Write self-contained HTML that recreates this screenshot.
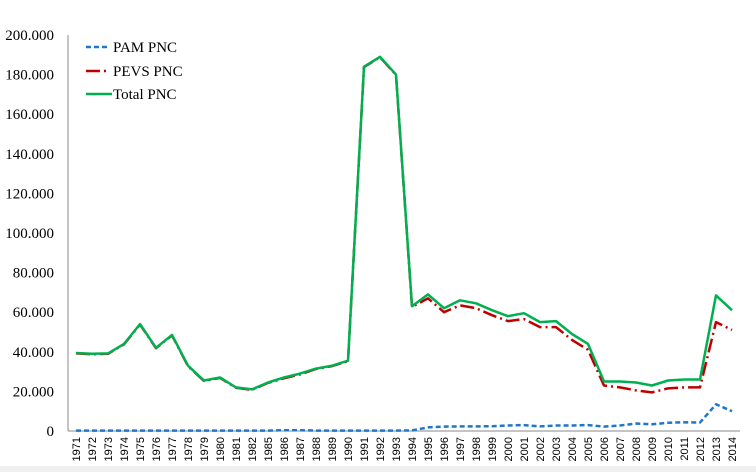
<!DOCTYPE html>
<html><head><meta charset="utf-8">
<style>
html,body{margin:0;padding:0;background:#fff;}
svg{display:block;font-family:"Liberation Serif",serif;}
</style></head>
<body>
<svg id="chart" width="756" height="472" viewBox="0 0 756 472" xmlns="http://www.w3.org/2000/svg">
<rect x="0" y="0" width="756" height="472" fill="#fff"/>
<rect x="0" y="466" width="756" height="6" fill="#f0f0f0"/>
<g id="grid"></g>
<g id="series"></g>
<g id="legend">
  <g>
    <line x1="86" y1="47" x2="110" y2="47" stroke="#1f77c9" stroke-width="2.5" stroke-dasharray="5,3"/>
    <text x="113" y="52" font-size="15" fill="#000">PAM PNC</text>
  </g>
  <g>
    <line x1="86" y1="71" x2="110" y2="71" stroke="#c00000" stroke-width="2.5" stroke-dasharray="14,4,2,4"/>
    <text x="113" y="76" font-size="15" fill="#000">PEVS PNC</text>
  </g>
  <g>
    <line x1="86" y1="94" x2="112" y2="94" stroke="#00b050" stroke-width="2.5"/>
    <text x="113" y="99" font-size="15" fill="#000">Total PNC</text>
  </g>
</g>
</svg>
<script>
const categories = ["1971","1972","1973","1974","1975","1976","1977","1978","1979","1980","1981","1982","1985","1986","1987","1988","1989","1990","1991","1992","1993","1994","1995","1996","1997","1998","1999","2000","2001","2002","2003","2004","2005","2006","2007","2008","2009","2010","2011","2012","2013","2014"];
const totalPNC = [39.4,39,39.2,44,54,42,48.5,33,25.5,27,22,21,24.5,27,29,31.5,33,35.5,184,189,180,63,69,62,66,64.5,61,58,59.5,55,55.5,49,44,25,25,24.5,23,25.5,26,26,68.5,61];
const pamPNC = [0.2,0.2,0.2,0.2,0.2,0.2,0.2,0.2,0.2,0.2,0.2,0.2,0.2,0.4,0.4,0.2,0.2,0.2,0.2,0.2,0.2,0.3,1.8,2.2,2.3,2.3,2.4,2.8,3,2.3,2.8,2.8,3,2.2,2.8,3.8,3.4,4.2,4.4,4.3,13.5,10];
const pevsPNC = [39.2,38.8,39,43.8,53.8,41.8,48.3,32.8,25.3,26.8,21.8,20.8,24.3,26.6,28.6,31.3,32.8,35.3,183.8,188.8,179.8,62.7,67,60,63.5,62,58.5,55.5,56.5,52.5,52.5,46,41,23,22,20.5,19.5,21.5,22,22,55,51];
const yTicks = [0,20,40,60,80,100,120,140,160,180,200];
const yTickLabels = ["0","20.000","40.000","60.000","80.000","100.000","120.000","140.000","160.000","180.000","200.000"];

const NS="http://www.w3.org/2000/svg";
const X0=68, X1=740, Y0=431, Y1=35, YMAX=200;
const band=(X1-X0)/categories.length;
function xPos(i){return X0+band*(i+0.5);}
function yPos(v){return Y0-(v/YMAX)*(Y0-Y1);}
function mk(tag,attrs,parent){const e=document.createElementNS(NS,tag);for(const k in attrs)e.setAttribute(k,attrs[k]);parent.appendChild(e);return e;}
const grid=document.getElementById('grid');
const yAxis=mk('line',{x1:X0,y1:Y1,x2:X0,y2:Y0,stroke:'#888','stroke-width':1},grid);


const xAxis=mk('line',{x1:X0,y1:Y0,x2:X1,y2:Y0,stroke:'#888','stroke-width':1},grid);


yTicks.forEach((v,i)=>{
  const t=mk('text',{x:54,y:yPos(v)+5,'text-anchor':'end','font-size':15,fill:'#000'},grid);
  t.textContent=yTickLabels[i];
  
  
});
categories.forEach((c,i)=>{
  const x=xPos(i)+4, y=437;
  const t=mk('text',{x:x,y:y,'text-anchor':'end','font-size':11,'font-family':'"Liberation Sans",sans-serif',fill:'#000',transform:`rotate(-90 ${x} ${y})`},grid);
  t.textContent=c;
  
  
});
const series=document.getElementById('series');
function line(data,stroke,dash,name){
  const pts=data.map((v,i)=>xPos(i).toFixed(1)+','+yPos(v).toFixed(1)).join(' ');
  const p=mk('polyline',{points:pts,fill:'none',stroke:stroke,'stroke-width':2.5,'stroke-linejoin':'round'},series);
  if(dash)p.setAttribute('stroke-dasharray',dash);
  
  
}
line(pamPNC,'#1f77c9','5,3','pam-pnc-line');
line(pevsPNC,'#c00000','14,4,2,4','pevs-pnc-line');
line(totalPNC,'#00b050',null,'total-pnc-line');
</script>
</body></html>
